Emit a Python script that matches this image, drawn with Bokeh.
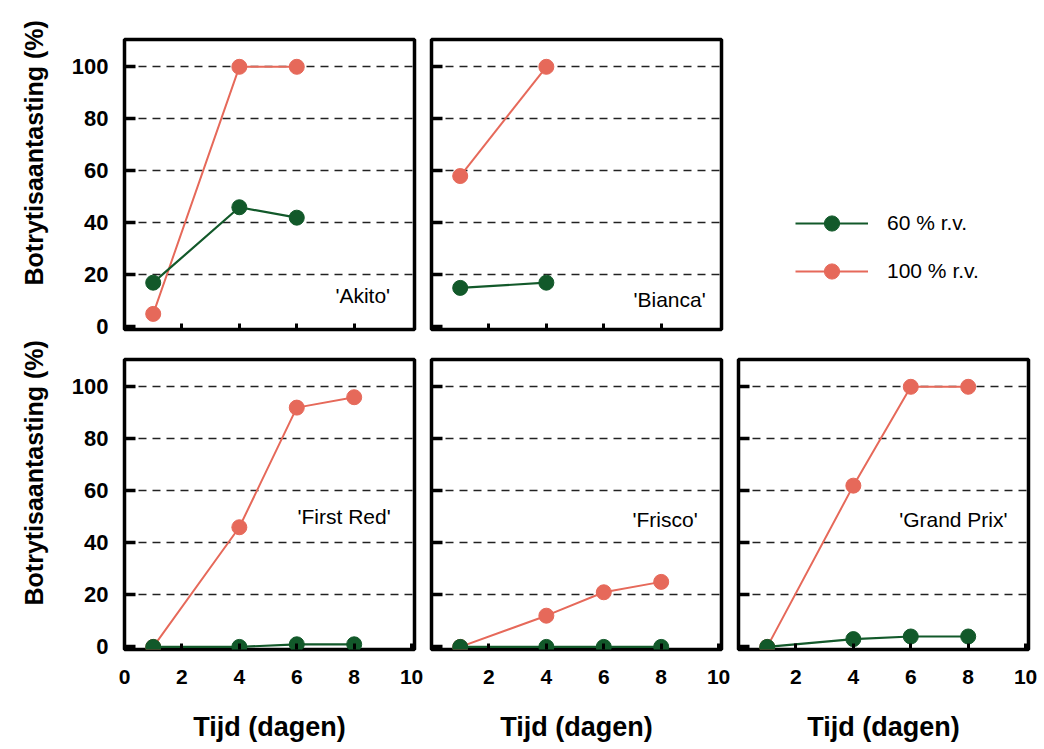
from bokeh.plotting import figure
from bokeh.models import (Range1d, FixedTicker, LinearAxis, Grid, Label, Title,
                          Legend, LegendItem)
from bokeh.layouts import column, row
from bokeh.embed import file_html
from bokeh.resources import INLINE

# ---------------- data ----------------
akito_days = [1, 4, 6]
akito_60 = [17, 46, 42]
akito_100 = [5, 100, 100]

bianca_days = [1, 4]
bianca_60 = [15, 17]
bianca_100 = [58, 100]

firstred_days = [1, 4, 6, 8]
firstred_60 = [0, 0, 1, 1]
firstred_100 = [0, 46, 92, 96]

frisco_days = [1, 4, 6, 8]
frisco_60 = [0, 0, 0, 0]
frisco_100 = [0, 12, 21, 25]

grandprix_days = [1, 4, 6, 8]
grandprix_60 = [0, 3, 4, 4]
grandprix_100 = [0, 62, 100, 100]

series_labels = ["60 % r.v.", "100 % r.v."]
y_ticks = [0, 20, 40, 60, 80, 100]
grid_ticks = [20, 40, 60, 80, 100]
x_ticks_first = [0, 2, 4, 6, 8, 10]
x_ticks_other = [2, 4, 6, 8, 10]
x_ticks_inner = [2, 4, 6, 8]
y_title = "Botrytisaantasting (%)"
x_title = "Tijd (dagen)"

# ---------------- style ----------------
FONT = "Liberation Sans"
RED = "#e6695a"
GREEN = "#12592a"
FW = 290
FH = 290


def make_panel(name, days, v60, v100, lab_x, lab_y, lb, rb, tb, bb,
               ylabels, xlabels, xticks):
    p = figure(frame_width=FW, frame_height=FH,
               x_range=Range1d(0, 10.1), y_range=Range1d(-1, 110.5),
               output_backend="svg", toolbar_location=None,
               x_axis_location=None, y_axis_location=None,
               min_border_left=lb, min_border_right=rb,
               min_border_top=tb, min_border_bottom=bb)
    p.grid.visible = False
    p.outline_line_color = "black"
    p.outline_line_width = 3.5
    p.background_fill_color = "white"
    p.border_fill_color = "white"

    grid = Grid(dimension=1, ticker=FixedTicker(ticks=grid_ticks),
                grid_line_color="#222222", grid_line_dash="8 6",
                grid_line_width=1.5)
    p.add_layout(grid)

    ya = LinearAxis(ticker=FixedTicker(ticks=y_ticks),
                    major_tick_in=11, major_tick_out=0,
                    minor_tick_in=0, minor_tick_out=0,
                    major_tick_line_width=3.5, axis_line_alpha=0)
    if ylabels:
        ya.major_label_standoff = 16
        ya.major_label_text_font = FONT
        ya.major_label_text_font_style = "bold"
        ya.major_label_text_font_size = "22px"
        ya.major_label_text_color = "black"
    else:
        ya.major_label_standoff = 0
        ya.major_label_text_color = None
    p.add_layout(ya, "left")
    if ylabels:
        t = Title(text=y_title, align="left", offset=44,
                  vertical_align="top", standoff=38,
                  text_font=FONT, text_font_style="bold",
                  text_font_size="25px", text_color="black")
        p.add_layout(t, "left")

    xa = LinearAxis(ticker=FixedTicker(ticks=xticks),
                    major_tick_in=6, major_tick_out=0,
                    minor_tick_in=0, minor_tick_out=0,
                    major_tick_line_width=3, axis_line_alpha=0)
    if xlabels:
        xa.major_label_standoff = 20
        xa.major_label_text_font = FONT
        xa.major_label_text_font_style = "bold"
        xa.major_label_text_font_size = "21px"
        xa.major_label_text_color = "black"
        xa.axis_label = x_title
        xa.axis_label_standoff = 25
        xa.axis_label_text_font = FONT
        xa.axis_label_text_font_style = "bold"
        xa.axis_label_text_font_size = "27px"
        xa.axis_label_text_color = "black"
    else:
        xa.major_label_standoff = 0
        xa.major_label_text_color = None
    p.add_layout(xa, "below")

    p.line(days, v100, line_color=RED, line_width=2)
    p.scatter(days, v100, size=15, fill_color=RED, line_color=RED)
    p.line(days, v60, line_color=GREEN, line_width=2.2)
    p.scatter(days, v60, size=15, fill_color=GREEN, line_color=GREEN)

    p.add_layout(Label(x=lab_x, y=lab_y, text=name, text_align="right",
                       text_baseline="middle", text_font=FONT,
                       text_font_size="21px", text_color="black"))
    return p


TOP1, BOT1, TOP2, BOT2 = 39, 10, 20, 100

f1 = make_panel("'Akito'", akito_days, akito_60, akito_100, 9.25, 12,
                124, 10, TOP1, BOT1, True, False, x_ticks_inner)
f2 = make_panel("'Bianca'", bianca_days, bianca_60, bianca_100, 9.55, 10.5,
                7, 10, TOP1, BOT1, False, False, x_ticks_inner)
f4 = make_panel("'First Red'", firstred_days, firstred_60, firstred_100, 9.27, 50,
                124, 10, TOP2, BOT2, True, True, x_ticks_first)
f5 = make_panel("'Frisco'", frisco_days, frisco_60, frisco_100, 9.27, 49,
                7, 10, TOP2, BOT2, False, True, x_ticks_other)
f6 = make_panel("'Grand Prix'", grandprix_days, grandprix_60, grandprix_100, 9.37, 49,
                7, 16, TOP2, BOT2, False, True, x_ticks_other)

# legend panel (its renderers are hidden; only the legend swatches show)
lg = figure(width=313, height=TOP1 + FH + BOT1,
            x_range=Range1d(0, 10), y_range=Range1d(0, 110),
            output_backend="svg", toolbar_location=None,
            x_axis_location=None, y_axis_location=None,
            min_border=0)
lg.grid.visible = False
lg.outline_line_alpha = 0
lg.border_fill_color = "white"
gl = lg.line(akito_days, akito_60, line_color=GREEN, line_width=2.2, visible=False)
gs = lg.scatter(akito_days, akito_60, size=15, fill_color=GREEN, line_color=GREEN, visible=False)
rl = lg.line(akito_days, akito_100, line_color=RED, line_width=2, visible=False)
rs = lg.scatter(akito_days, akito_100, size=15, fill_color=RED, line_color=RED, visible=False)
legend = Legend(items=[LegendItem(label=series_labels[0], renderers=[gl, gs]),
                       LegendItem(label=series_labels[1], renderers=[rl, rs])],
                location=(64, 39), glyph_width=73, glyph_height=38,
                label_standoff=19, spacing=10, padding=0, margin=0,
                border_line_alpha=0, background_fill_alpha=0,
                label_text_font=FONT, label_text_font_size="21px",
                label_text_color="black", label_height=38,
                inactive_fill_alpha=0)
lg.add_layout(legend)

layout = column(row(f1, f2, lg), row(f4, f5, f6))
open("out.html", "w").write(file_html(layout, INLINE))
